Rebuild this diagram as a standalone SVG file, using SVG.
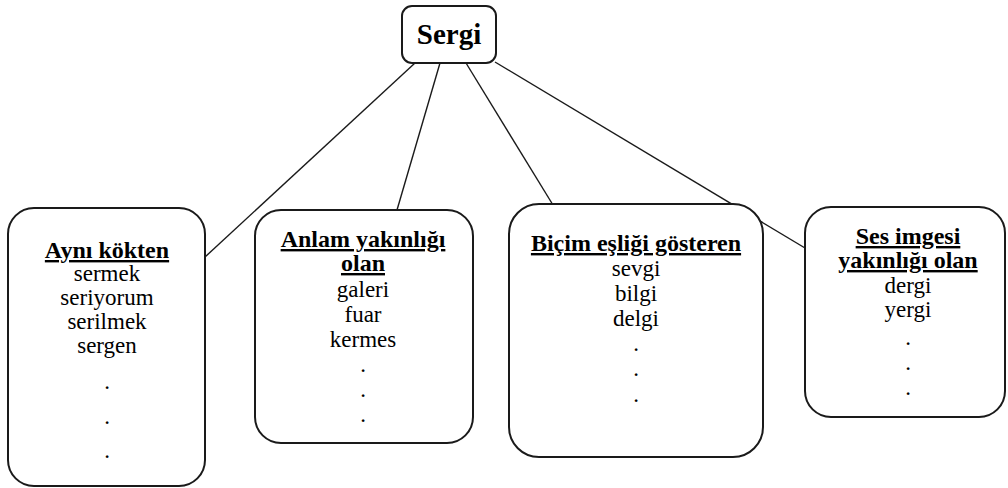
<svg xmlns="http://www.w3.org/2000/svg" width="1008" height="488" viewBox="0 0 1008 488">
<style>
.box{fill:#fff;stroke:#1a1a1a;stroke-width:2}
.t{font-family:'Liberation Serif','Times New Roman','DejaVu Serif',Times,serif;font-size:23px;fill:#000;text-anchor:middle}
.h{font-weight:bold;font-size:24px;text-decoration:underline}
.root{font-weight:bold;font-size:29px}
.edge{stroke:#1a1a1a;stroke-width:1.4;fill:none}
</style>
<rect width="1008" height="488" fill="#fff"/>
<g id="connectors">
<line class="edge" x1="415" y1="63" x2="205" y2="257"/>
<line class="edge" x1="440" y1="63" x2="397" y2="210"/>
<line class="edge" x1="466" y1="63" x2="553" y2="205"/>
<line class="edge" x1="495" y1="62" x2="805" y2="248"/>
</g>
<g id="sergi">
<rect class="box" x="402" y="6" width="94" height="57" rx="10"/>
<text class="t root" x="449" y="44">Sergi</text>
</g>
<g id="ayni-kokten">
<rect class="box" x="8" y="208" width="197" height="278" rx="26"/>
<text class="t h" x="107" y="258">Aynı kökten</text>
<text class="t" x="107" y="281">sermek</text>
<text class="t" x="107" y="305">seriyorum</text>
<text class="t" x="107" y="329">serilmek</text>
<text class="t" x="107" y="353">sergen</text>
<text class="t" x="107" y="389">.</text>
<text class="t" x="107" y="424">.</text>
<text class="t" x="107" y="458">.</text>
</g>
<g id="anlam-yakinligi">
<rect class="box" x="255" y="210" width="218" height="233" rx="26"/>
<text class="t h" x="363" y="247">Anlam yakınlığı</text>
<text class="t h" x="363" y="271">olan</text>
<text class="t" x="363" y="297">galeri</text>
<text class="t" x="363" y="322">fuar</text>
<text class="t" x="363" y="347">kermes</text>
<text class="t" x="363" y="372">.</text>
<text class="t" x="363" y="397">.</text>
<text class="t" x="363" y="422">.</text>
</g>
<g id="bicim-esligi">
<rect class="box" x="509" y="204" width="254" height="253" rx="30"/>
<text class="t h" x="636" y="251">Biçim eşliği gösteren</text>
<text class="t" x="636" y="276">sevgi</text>
<text class="t" x="636" y="301">bilgi</text>
<text class="t" x="636" y="326">delgi</text>
<text class="t" x="636" y="351">.</text>
<text class="t" x="636" y="376">.</text>
<text class="t" x="636" y="402">.</text>
</g>
<g id="ses-imgesi">
<rect class="box" x="805" y="207" width="200" height="210" rx="26"/>
<text class="t h" x="908" y="244">Ses imgesi</text>
<text class="t h" x="908" y="268">yakınlığı olan</text>
<text class="t" x="908" y="293">dergi</text>
<text class="t" x="908" y="317">yergi</text>
<text class="t" x="908" y="345">.</text>
<text class="t" x="908" y="370">.</text>
<text class="t" x="908" y="395">.</text>
</g>
</svg>
